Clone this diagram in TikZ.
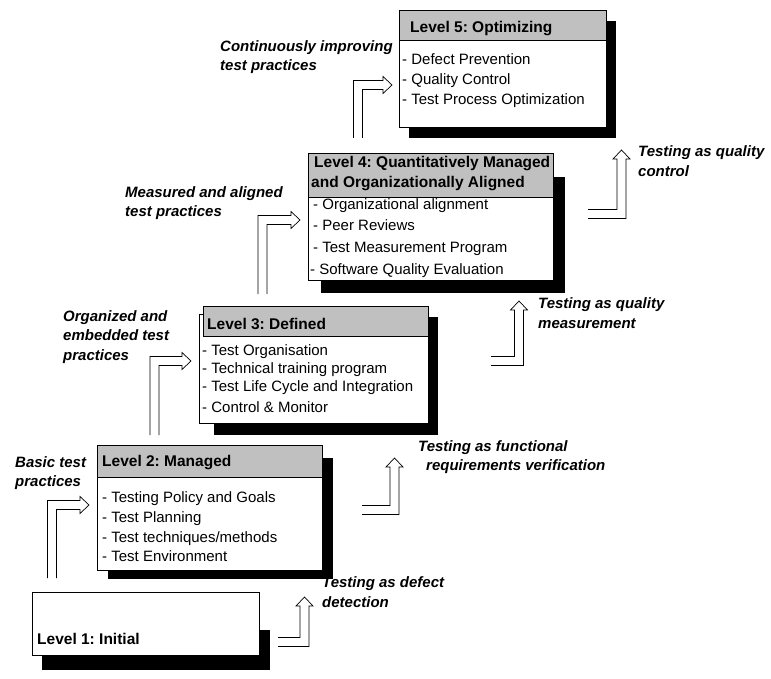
\documentclass[tikz,border=0pt]{standalone}
\usepackage{fontspec}
\setmainfont{Liberation Sans}
\frenchspacing
\definecolor{hdrgray}{RGB}{192,192,192}
\tikzset{
  shadowbox/.style={fill=black},
  levelbox/.style={draw=black, fill=white, line width=0.8pt},
  headbox/.style={draw=black, fill=hdrgray, line width=0.8pt},
  itemtxt/.style={anchor=base west, inner sep=0pt, font=\fontsize{15}{19}\selectfont},
  headtxt/.style={itemtxt, font=\fontsize{15.5}{19}\selectfont\bfseries},
  practicetxt/.style={anchor=west, inner sep=0pt, align=left, font=\fontsize{15}{19.5}\selectfont\bfseries\itshape},
  hollowarr/.style={draw=black, fill=white, line width=0.7pt}
}
\begin{document}
\begin{tikzpicture}[x=1pt, y=-1pt]
        \useasboundingbox (0,0) rectangle (771,679);

        % Level 1
        \fill[shadowbox] (42,630) rectangle (270,670);
        \draw[levelbox] (32,592) rectangle (259,655);
        \node[headtxt] (l1head) at (37,644) {Level 1: Initial};

        % Level 2
        \fill[shadowbox] (108,458) rectangle (333,579);
        \draw[levelbox] (97,445) rectangle (322,570);
        \draw[headbox] (97,445) rectangle (322,477);
        \node[headtxt] (l2head) at (102,466) {Level 2: Managed};
        \foreach \y/\val [count=\i] in {
            502/{Testing Policy and Goals},
            522/{Test Planning},
            542/{Test techniques/methods},
            561/{Test Environment}
            } {
            \node[itemtxt] (l2item\i) at (102,\y) {- \val};
        }

        % Level 3
        \fill[shadowbox] (214,317) rectangle (438,435);
        \draw[levelbox] (199,314) rectangle (428,423);
        \draw[headbox] (203,306) rectangle (428,336);
        \node[headtxt] (l3head) at (207,329) {Level 3: Defined};
        \foreach \y/\val [count=\i] in {
            355/{Test Organisation},
            373/{Technical training program},
            391/{Test Life Cycle and Integration},
            412/{Control \& Monitor}
            } {
            \node[itemtxt] (l3item\i) at (202,\y) {- \val};
        }

        % Level 4
        \fill[shadowbox] (321,177) rectangle (565,293);
        \draw[levelbox] (308,197) rectangle (553,280);
        \draw[headbox] (308,153) rectangle (553,197);
        \node[headtxt] (l4head) at (314,168) {Level 4: Quantitatively Managed};
        \node[headtxt] (l4headb) at (311,188) {and Organizationally Aligned};
        \foreach \x/\y/\val [count=\i] in {
            313/210/{Organizational alignment},
            313/230/{Peer Reviews},
            313/252/{Test Measurement Program},
            310/274/{Software Quality Evaluation}
            } {
            \node[itemtxt] (l4item\i) at (\x,\y) {- \val};
        }

        % Level 5
        \fill[shadowbox] (409,21) rectangle (616,138);
        \draw[levelbox] (399,10) rectangle (606,127);
        \draw[headbox] (399,10) rectangle (606,40);
        \node[headtxt] (l5head) at (410,33) {Level 5: Optimizing};
        \foreach \y/\val [count=\i] in {
            65/{Defect Prevention},
            85/{Quality Control},
            105/{Test Process Optimization}
            } {
            \node[itemtxt] (l5item\i) at (402,\y) {- \val};
        }

        % Arrows into the levels (left side)
        \foreach \xv/\yh/\yb/\xt in {52/505/578/89, 154.5/361/435/191, 262.5/220/294/300, 358/85/138/392} {
            \filldraw[hollowarr] (\xv-4.5,\yb) -- (\xv-4.5,\yh-4.5) -- (\xt-9,\yh-4.5) -- (\xt-9,\yh-8.5)
                -- (\xt,\yh) -- (\xt-9,\yh+8.5) -- (\xt-9,\yh+4.5) -- (\xv+4.5,\yh+4.5) -- (\xv+4.5,\yb);
        }

        % Arrows out of the levels (right side)
        \foreach \xl/\yh/\xv/\yt in {278/642/304.5/597, 362/510/394.5/458, 491/361/519/301, 588/214/621.5/150} {
            \filldraw[hollowarr] (\xl,\yh-4.5) -- (\xv-4.5,\yh-4.5) -- (\xv-4.5,\yt+9) -- (\xv-8.5,\yt+9)
                -- (\xv,\yt) -- (\xv+8.5,\yt+9) -- (\xv+4.5,\yt+9) -- (\xv+4.5,\yh+4.5) -- (\xl,\yh+4.5);
        }

        % Practices
        \node[practicetxt] (basic) at (15,473) {Basic test\\practices};
        \node[practicetxt] (organized) at (63,337) {Organized and\\embedded test\\practices};
        \node[practicetxt] (measured) at (125,203) {Measured and aligned\\test practices};
        \node[practicetxt] (continuous) at (220,57) {Continuously improving\\test practices};

        % Testing as ...
        \node[practicetxt] (defect) at (322,592) {Testing as defect\\detection};
        \node[practicetxt] (functional) at (418,457) {Testing as functional\\\hspace{8pt}requirements verification};
        \node[practicetxt] (measurement) at (538,313) {Testing as quality\\measurement};
        \node[practicetxt] (control) at (638,161) {Testing as quality\\control};
\end{tikzpicture}
\end{document}
